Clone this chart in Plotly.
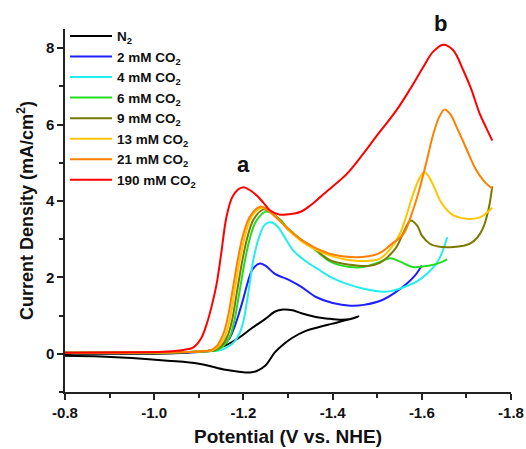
import plotly.graph_objects as go

# ---- data ----
x_n2 = [-0.80, -0.90, -1.00, -1.06, -1.10, -1.13, -1.16, -1.19, -1.22, -1.25, -1.27, -1.289, -1.31, -1.33, -1.36, -1.39, -1.42, -1.44, -1.458,
        -1.43, -1.40, -1.37, -1.34, -1.31, -1.29, -1.27, -1.25, -1.23, -1.215, -1.19, -1.16, -1.10, -1.03, -0.95, -0.88, -0.80]
y_n2 = [0.0, 0.0, 0.0, 0.02, 0.05, 0.10, 0.22, 0.42, 0.68, 0.92, 1.10, 1.16, 1.14, 1.06, 0.97, 0.92, 0.89, 0.91, 0.976,
        0.88, 0.79, 0.70, 0.60, 0.42, 0.25, 0.03, -0.30, -0.45, -0.49, -0.47, -0.42, -0.26, -0.18, -0.11, -0.07, -0.05]

x_2 = [-0.80, -0.95, -1.05, -1.10, -1.133, -1.155, -1.17, -1.18, -1.192, -1.20, -1.211, -1.22, -1.237, -1.25, -1.27, -1.304, -1.33, -1.364, -1.40, -1.44, -1.47, -1.514, -1.54, -1.566, -1.585, -1.60]
y_2 = [0.03, 0.03, 0.04, 0.05, 0.09, 0.22, 0.43, 0.70, 1.13, 1.45, 1.92, 2.20, 2.36, 2.30, 2.10, 1.92, 1.75, 1.48, 1.33, 1.26, 1.28, 1.42, 1.60, 1.83, 2.05, 2.31]

x_4 = [-0.80, -0.95, -1.05, -1.10, -1.15, -1.165, -1.18, -1.192, -1.20, -1.207, -1.215, -1.222, -1.235, -1.248, -1.26, -1.275, -1.29, -1.312, -1.34, -1.372, -1.40, -1.432, -1.47, -1.506, -1.53, -1.559, -1.59, -1.611, -1.63, -1.641, -1.657]
y_4 = [0.03, 0.03, 0.04, 0.06, 0.10, 0.18, 0.32, 0.55, 0.85, 1.30, 1.90, 2.44, 3.05, 3.38, 3.44, 3.35, 3.10, 2.70, 2.42, 2.18, 1.98, 1.83, 1.70, 1.63, 1.64, 1.74, 1.90, 2.09, 2.32, 2.53, 3.05]

x_6 = [-0.80, -0.95, -1.05, -1.10, -1.14, -1.155, -1.17, -1.18, -1.191, -1.202, -1.214, -1.228, -1.25, -1.265, -1.285, -1.30, -1.33, -1.357, -1.394, -1.439, -1.469, -1.50, -1.529, -1.55, -1.581, -1.618, -1.64, -1.657]
y_6 = [0.03, 0.03, 0.04, 0.06, 0.09, 0.20, 0.46, 0.88, 1.60, 2.35, 3.00, 3.46, 3.72, 3.67, 3.48, 3.28, 2.98, 2.76, 2.42, 2.27, 2.27, 2.38, 2.50, 2.42, 2.27, 2.31, 2.38, 2.47]

x_9 = [-0.80, -0.95, -1.05, -1.10, -1.135, -1.15, -1.165, -1.175, -1.186, -1.197, -1.209, -1.223, -1.245, -1.26, -1.28, -1.30, -1.33, -1.357, -1.394, -1.44, -1.48, -1.506, -1.525, -1.543, -1.56, -1.575, -1.59, -1.60, -1.618, -1.64, -1.663, -1.69, -1.708, -1.725, -1.738, -1.75, -1.758]
y_9 = [0.03, 0.03, 0.04, 0.06, 0.09, 0.20, 0.48, 0.90, 1.65, 2.40, 3.05, 3.52, 3.78, 3.72, 3.52, 3.25, 2.98, 2.78, 2.45, 2.33, 2.30, 2.38, 2.55, 2.79, 3.20, 3.49, 3.35, 3.10, 2.88, 2.80, 2.79, 2.82, 2.88, 3.05, 3.31, 3.80, 4.38]

x_13 = [-0.80, -0.95, -1.05, -1.10, -1.13, -1.145, -1.16, -1.17, -1.181, -1.192, -1.204, -1.218, -1.24, -1.255, -1.275, -1.30, -1.33, -1.36, -1.40, -1.44, -1.48, -1.506, -1.53, -1.551, -1.565, -1.581, -1.595, -1.606, -1.62, -1.641, -1.655, -1.671, -1.69, -1.708, -1.725, -1.738, -1.758]
y_13 = [0.03, 0.03, 0.04, 0.06, 0.09, 0.20, 0.50, 0.92, 1.70, 2.45, 3.10, 3.58, 3.82, 3.76, 3.56, 3.26, 2.95, 2.74, 2.55, 2.45, 2.43, 2.49, 2.75, 3.14, 3.60, 4.19, 4.60, 4.75, 4.55, 4.01, 3.78, 3.62, 3.55, 3.53, 3.55, 3.62, 3.82]

x_21 = [-0.80, -0.95, -1.05, -1.10, -1.125, -1.14, -1.155, -1.165, -1.177, -1.188, -1.20, -1.215, -1.237, -1.25, -1.27, -1.30, -1.33, -1.36, -1.40, -1.44, -1.48, -1.506, -1.53, -1.559, -1.58, -1.596, -1.61, -1.626, -1.64, -1.651, -1.665, -1.678, -1.693, -1.708, -1.72, -1.738, -1.758]
y_21 = [0.03, 0.03, 0.04, 0.06, 0.09, 0.20, 0.52, 0.95, 1.75, 2.50, 3.14, 3.60, 3.85, 3.80, 3.60, 3.28, 2.98, 2.78, 2.60, 2.53, 2.55, 2.64, 2.85, 3.14, 3.75, 4.36, 5.00, 5.76, 6.22, 6.39, 6.25, 5.93, 5.55, 5.15, 4.85, 4.54, 4.32]

x_190 = [-0.80, -0.95, -1.03, -1.065, -1.088, -1.105, -1.118, -1.13, -1.14, -1.15, -1.162, -1.175, -1.188, -1.20, -1.215, -1.23, -1.245, -1.26, -1.282, -1.30, -1.327, -1.35, -1.372, -1.40, -1.432, -1.469, -1.50, -1.543, -1.575, -1.603, -1.625, -1.648, -1.67, -1.693, -1.71, -1.73, -1.745, -1.758]
y_190 = [0.03, 0.04, 0.06, 0.10, 0.17, 0.40, 0.79, 1.30, 1.83, 2.60, 3.58, 4.10, 4.30, 4.36, 4.28, 4.14, 3.95, 3.75, 3.64, 3.65, 3.71, 3.88, 4.10, 4.38, 4.71, 5.24, 5.72, 6.37, 6.95, 7.50, 7.90, 8.09, 7.95, 7.42, 6.95, 6.28, 5.90, 5.58]

series_names = ["N<sub>2</sub>", "2 mM CO<sub>2</sub>", "4 mM CO<sub>2</sub>", "6 mM CO<sub>2</sub>",
                "9 mM CO<sub>2</sub>", "13 mM CO<sub>2</sub>", "21 mM CO<sub>2</sub>", "190 mM CO<sub>2</sub>"]
series_x = [x_n2, x_2, x_4, x_6, x_9, x_13, x_21, x_190]
series_y = [y_n2, y_2, y_4, y_6, y_9, y_13, y_21, y_190]
colors = ["#000000", "#1f1fff", "#22eeee", "#22dd22", "#7a7a00", "#ffc400", "#ff8000", "#ff0000"]

x_tickvals = [-0.8, -1.0, -1.2, -1.4, -1.6, -1.8]
x_ticktext = ["-0.8", "-1.0", "-1.2", "-1.4", "-1.6", "-1.8"]
x_minor = [-0.9, -1.1, -1.3, -1.5, -1.7]
y_tickvals = [0, 2, 4, 6, 8]
y_ticktext = ["0", "2", "4", "6", "8"]
y_minor = [-1, 1, 3, 5, 7]

FONT = "Liberation Sans, Arial, sans-serif"

fig = go.Figure()
for name, xs, ys, c in zip(series_names, series_x, series_y, colors):
    fig.add_trace(go.Scatter(x=xs, y=ys, mode="lines", name=name,
                             line=dict(color=c, width=2, shape="spline", smoothing=1.0)))

axis_common = dict(showline=True, linecolor="#222222", linewidth=1.5, showgrid=False, zeroline=False,
                   ticks="outside", ticklen=6, tickwidth=1.5, tickcolor="#222222", automargin=False,
                   tickfont=dict(family=FONT, size=15, color="#111111", weight="bold"))

fig.update_xaxes(range=[-0.8, -1.8], tickmode="array", tickvals=x_tickvals, ticktext=x_ticktext,
                 minor=dict(tickvals=x_minor, ticks="outside", ticklen=4, tickwidth=1.5, tickcolor="#222222"),
                 title=dict(text="Potential (V vs. NHE)", font=dict(family=FONT, size=19, color="#111111", weight="bold"), standoff=10),
                 **axis_common)
fig.update_yaxes(range=[-1, 8.5], tickmode="array", tickvals=y_tickvals, ticktext=y_ticktext,
                 minor=dict(tickvals=y_minor, ticks="outside", ticklen=4, tickwidth=1.5, tickcolor="#222222"),
                 title=dict(text="Current Density (mA/cm<sup>2</sup>)", font=dict(family=FONT, size=18, color="#111111", weight="bold"), standoff=8),
                 **axis_common)

fig.add_annotation(x=-1.201, y=4.95, text="a", showarrow=False,
                   font=dict(family=FONT, size=22, color="#111111", weight="bold"))
fig.add_annotation(x=-1.641, y=8.45, yshift=7, text="b", showarrow=False,
                   font=dict(family=FONT, size=22, color="#111111", weight="bold"))

fig.update_layout(
    width=526, height=449,
    margin=dict(l=65, r=15, t=29, b=57),
    paper_bgcolor="white", plot_bgcolor="white",
    showlegend=True,
    legend=dict(x=0.0, y=1.023, xanchor="left", yanchor="top", bgcolor="rgba(0,0,0,0)",
                font=dict(family=FONT, size=13.5, color="#111111", weight="bold"),
                itemwidth=42, tracegroupgap=0),
)

fig.write_html("out.html", config={"displayModeBar": False},
               post_script="document.body.style.margin='0';document.body.style.padding='0';")
